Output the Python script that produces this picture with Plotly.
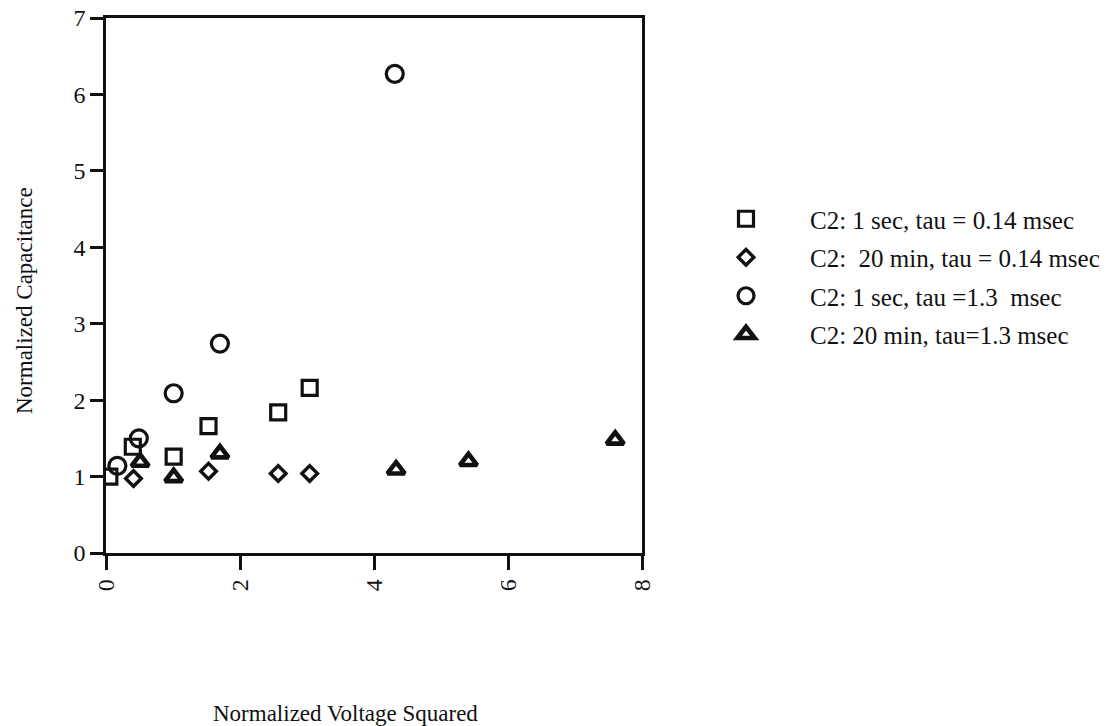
import plotly.graph_objects as go

# Normalized voltage squared (x) and normalized capacitance (y) per series
sq_x = [0.05, 0.40, 1.01, 1.53, 2.57, 3.04]
sq_y = [1.00, 1.39, 1.26, 1.66, 1.84, 2.16]

dia_x = [0.41, 1.53, 2.57, 3.04]
dia_y = [0.975, 1.07, 1.04, 1.04]

cir_x = [0.17, 0.49, 1.01, 1.70, 4.31]
cir_y = [1.14, 1.50, 2.09, 2.74, 6.27]

tri_x = [0.51, 1.01, 1.70, 4.33, 5.41, 7.60]
tri_y = [1.19, 0.99, 1.30, 1.09, 1.20, 1.48]

names = [
    "C2: 1 sec, tau = 0.14 msec",
    "C2:  20 min, tau = 0.14 msec",
    "C2: 1 sec, tau =1.3  msec",
    "C2: 20 min, tau=1.3 msec",
]

x_ticks = [0, 2, 4, 6, 8]
y_ticks = [0, 1, 2, 3, 4, 5, 6, 7]

FONT = "Liberation Serif, Times New Roman, serif"
INK = "#111111"

W, H = 1115, 726
M_L, M_R, M_T, M_B = 106, 473, 18, 173
PLOT_W = W - M_L - M_R
PLOT_H = H - M_T - M_B

series = [
    (sq_x, sq_y, "square-open", 15, 3.2),
    (dia_x, dia_y, "diamond-open", 12, 3.4),
    (cir_x, cir_y, "circle-open", 17, 3.2),
    (tri_x, tri_y, "triangle-up-open", 15, 4.6),
]

fig = go.Figure()
for i, ((xs, ys, sym, size, lw), name) in enumerate(zip(series, names)):
    fig.add_trace(go.Scatter(
        x=xs, y=ys, mode="markers", name=name, legendgroup=f"g{i}",
        marker=dict(symbol=sym, size=size, color=INK,
                    line=dict(color=INK, width=lw)),
    ))

axis_common = dict(
    showgrid=False, zeroline=False, showline=True, linecolor=INK,
    linewidth=2.5, mirror=True, ticks="outside", automargin=False,
    tickwidth=2.5, tickcolor=INK,
    tickfont=dict(family=FONT, size=24, color=INK),
)

# axis titles placed as free text, positioned in pixels
fig.add_annotation(
    text="Normalized Voltage Squared", xref="paper", yref="paper",
    x=(345 - M_L) / PLOT_W, y=-(713 - (H - M_B)) / PLOT_H,
    xanchor="center", yanchor="middle", showarrow=False,
    font=dict(family=FONT, size=23, color=INK),
)
fig.add_annotation(
    text="Normalized Capacitance", xref="paper", yref="paper",
    x=-(M_L - 24) / PLOT_W, y=((H - M_B) - 301) / PLOT_H,
    xanchor="center", yanchor="middle", showarrow=False, textangle=-90,
    font=dict(family=FONT, size=23, color=INK),
)

fig.update_layout(
    width=W, height=H,
    margin=dict(l=M_L, r=M_R, t=M_T, b=M_B),
    paper_bgcolor="white", plot_bgcolor="white",
    font=dict(family=FONT, size=22, color=INK),
    xaxis=dict(range=[0, 8], tickvals=x_ticks, tickangle=-90, ticklen=14,
               **axis_common),
    yaxis=dict(range=[0, 7], tickvals=y_ticks, ticklen=13,
               **axis_common),
    showlegend=True,
    legend=dict(
        xref="container", yref="container",
        x=682 / W, y=1 - 196 / H, xanchor="left", yanchor="top",
        itemwidth=118, traceorder="grouped", tracegroupgap=3,
        font=dict(family=FONT, size=25, color=INK),
        bgcolor="rgba(0,0,0,0)", borderwidth=0,
    ),
)

fig.write_html("out.html")
